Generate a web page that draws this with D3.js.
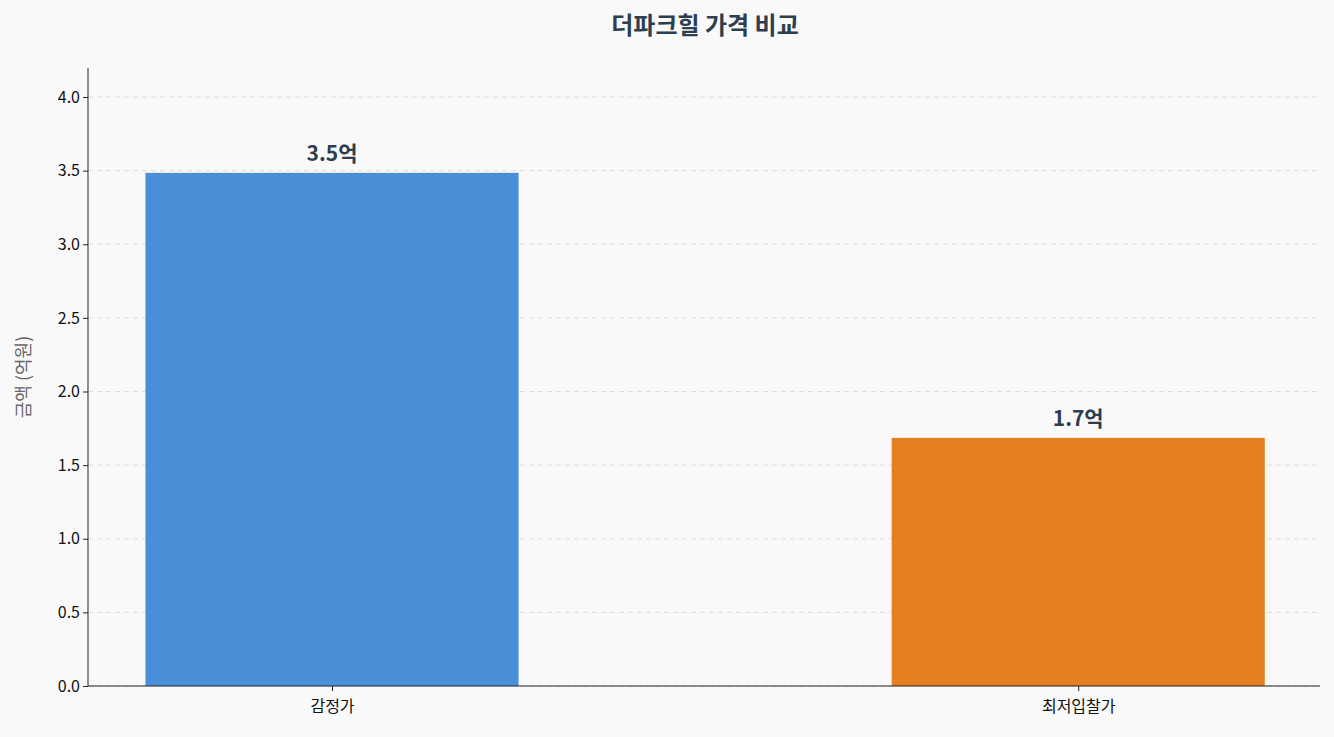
<!DOCTYPE html>
<html><head><meta charset="utf-8">
<script src="https://cdn.jsdelivr.net/npm/d3@7"></script>
<style>body{margin:0;background:#f9f9f9;font-family:"Noto Sans CJK KR","Noto Sans",sans-serif;}</style>
</head><body><svg id="c" width="1334" height="737"></svg>
<script>
var categories = ["감정가", "최저입찰가"];
var values = [3.485, 1.685];
var labels = ["3.5억", "1.7억"];
var colors = ["#4a90d9", "#e67e22"];
var yTicks = [0, 0.5, 1, 1.5, 2, 2.5, 3, 3.5, 4];

var svg = d3.select("#c");
var mLeft = 88, mRight = 1320, mTop = 68, mBottom = 686;
svg.append("rect").attr("width", 1334).attr("height", 737).attr("fill", "#f9f9f9");

var x = d3.scaleLinear().domain([-0.327, 1.324]).range([mLeft, mRight]);
var y = d3.scaleLinear().domain([0, 4.197]).range([mBottom, mTop]);
var bw = x(0.5) - x(0);

//grid
svg.selectAll(".grid").data(yTicks).enter().append("line")
  .attr("x1", mLeft).attr("x2", mRight)
  .attr("y1", function(d){return y(d);}).attr("y2", function(d){return y(d);})
  .attr("stroke", "#dddddd").attr("stroke-dasharray", "5,4");

//bars
svg.selectAll(".bar").data(values).enter().append("rect")
  .attr("x", function(d,i){return x(i) - bw/2;})
  .attr("y", function(d){return y(d);})
  .attr("width", bw)
  .attr("height", function(d){return mBottom - y(d);})
  .attr("fill", function(d,i){return colors[i];});

svg.selectAll(".lbl").data(values).enter().append("text")
  .attr("x", function(d,i){return x(i);})
  .attr("y", function(d){return y(d) - 12;})
  .attr("text-anchor", "middle").attr("font-size", 21).attr("font-weight", "bold")
  .attr("fill", "#2c3e50")
  .text(function(d,i){return labels[i];});

//axes
var ya = svg.append("g").attr("transform", "translate(" + mLeft + ",0)")
  .call(d3.axisLeft(y).tickValues(yTicks).tickFormat(d3.format(".1f")).tickSize(5));
var xa = svg.append("g").attr("transform", "translate(0," + mBottom + ")")
  .call(d3.axisBottom(x).tickValues([0, 1]).tickFormat(function(d){return categories[d];}).tickSize(5));
[ya, xa].forEach(function(g){
  g.selectAll("text").attr("font-size", 16).attr("fill", "#111")
   .attr("font-family", "'Noto Sans CJK KR','Noto Sans',sans-serif");
  g.selectAll(".tick line").attr("stroke", "#222");
  g.select(".domain").attr("stroke", "#222");
});
xa.selectAll("text").attr("dy", "1.1em");
xa.select(".domain").attr("d", "M" + mLeft + ",0H" + mRight);
ya.select(".domain").attr("d", "M0," + mTop + "V" + mBottom);

svg.append("text").attr("transform", "translate(30," + ((mTop + mBottom)/2) + ") rotate(-90)")
  .attr("text-anchor", "middle").attr("font-size", 18).attr("fill", "#666")
  .text("금액 (억원)");

svg.append("text").attr("x", 705).attr("y", 34).attr("text-anchor", "middle")
  .attr("font-size", 24).attr("font-weight", "bold").attr("fill", "#2c3e50")
  .text("더파크힐 가격 비교");
</script></body></html>
